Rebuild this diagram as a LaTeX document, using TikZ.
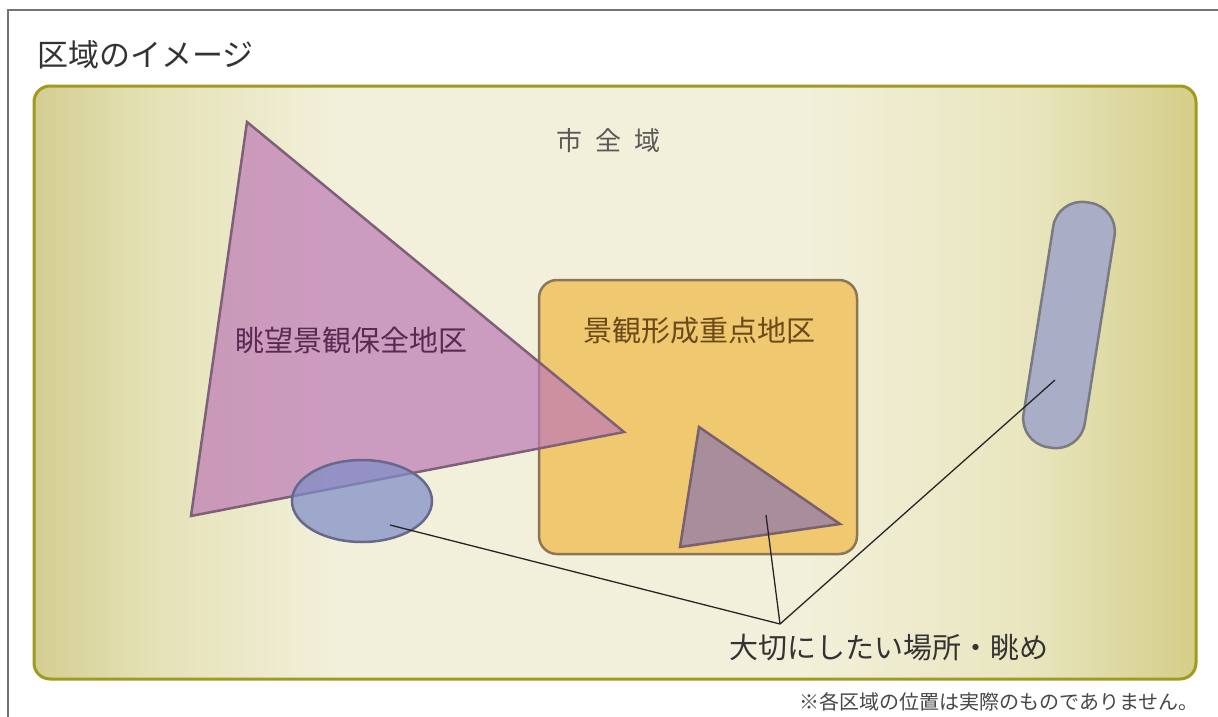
\documentclass[tikz,border=0pt]{standalone}
\usepackage{fontspec}
\setmainfont{Noto Sans CJK JP}
\definecolor{cityL}{RGB}{212,206,146}
\definecolor{cityL2}{RGB}{228,225,182}
\definecolor{cityM}{RGB}{242,240,218}
\definecolor{cityR2}{RGB}{232,229,190}
\definecolor{cityR}{RGB}{212,206,136}
\definecolor{cityB}{RGB}{160,154,32}
\pgfdeclarehorizontalshading{citysh}{100bp}{color(0bp)=(cityL); color(25bp)=(cityL); color(30bp)=(cityL2); color(38bp)=(cityM); color(58bp)=(cityM); color(68bp)=(cityR2); color(75bp)=(cityR); color(100bp)=(cityR)}
\begin{document}
\begin{tikzpicture}[x=1pt,y=-1pt,
  frame/.style={draw=black!55,line width=2.5pt},
  cityarea/.style={draw=cityB,line width=3pt,rounded corners=16pt,shading=citysh},
  keyarea/.style={draw=keyB,line width=2.5pt,fill=keyF,rounded corners=18pt},
  viewarea/.style={draw=viewB,line width=2.5pt,fill=viewF,fill opacity=0.7,line join=miter},
  spot/.style={draw=spotB,line width=2.5pt,fill=spotF,fill opacity=0.72},
  spottri/.style={draw=triB,line width=2.5pt,fill=triF},
  capsule/.style={draw=capB,line width=2.5pt,fill=capF,rounded corners=29pt,
    minimum width=62pt,minimum height=248pt,inner sep=0pt,rotate=-9},
  link/.style={draw=black!85,line width=1.3pt},
  txt/.style={inner sep=0pt,font=\fontsize{#1}{#1}\selectfont},
  txt/.default=29
]
\definecolor{keyF}{RGB}{240,200,112}
\definecolor{keyB}{RGB}{140,118,86}
\definecolor{viewF}{RGB}{189,121,182}
\definecolor{viewB}{RGB}{128,96,120}
\definecolor{spotF}{RGB}{126,141,199}
\definecolor{spotB}{RGB}{104,104,140}
\definecolor{triF}{RGB}{168,142,154}
\definecolor{triB}{RGB}{122,96,110}
\definecolor{capF}{RGB}{169,173,198}
\definecolor{capB}{RGB}{122,122,128}
\useasboundingbox (0,0) rectangle (1218,717);
\fill[white] (0,0) rectangle (1218,717);
\draw[frame] (1220,10) -- (8,10) -- (8,720);
\node[txt=31,anchor=west,text=black!80] (title) at (37,55) {区域のイメージ};
% city area
\path[cityarea] (34,86) rectangle (1196,679);
\node[txt=26,text=black!65] (city) at (608,141) {市\hspace{13pt}全\hspace{13pt}域};
% key area
\path[keyarea] (539,280) rectangle (857,554);
\node[txt,text={rgb,255:red,106;green,74;blue,26}] (keylbl) at (699,331) {景観形成重点地区};
% view area
\path[viewarea] (247,122) -- (191,516) -- (624,432) -- cycle;
\node[txt,text={rgb,255:red,90;green,40;blue,80}] (viewlbl) at (351,340) {眺望景観保全地区};
% important spots
\path[spot] (362,501) ellipse [x radius=70, y radius=41];
\path[spottri] (699,427) -- (680,547) -- (840,524) -- cycle;
\node[capsule] (cap) at (1069,325) {};
% connectors
\coordinate (hub) at (780,624);
\coordinate (e1) at (390,525);
\coordinate (e2) at (766,515);
\coordinate (e3) at (1055,380);
\draw[link] (e1) -- (hub) -- (e3);
\draw[link] (e2) -- (hub);
\node[txt,text=black!80] (spots) at (889,648) {大切にしたい場所・眺め};
\node[txt=20,anchor=east,text=black!72] (note) at (1199,702) {※各区域の位置は実際のものでありません。};
\end{tikzpicture}
\end{document}
